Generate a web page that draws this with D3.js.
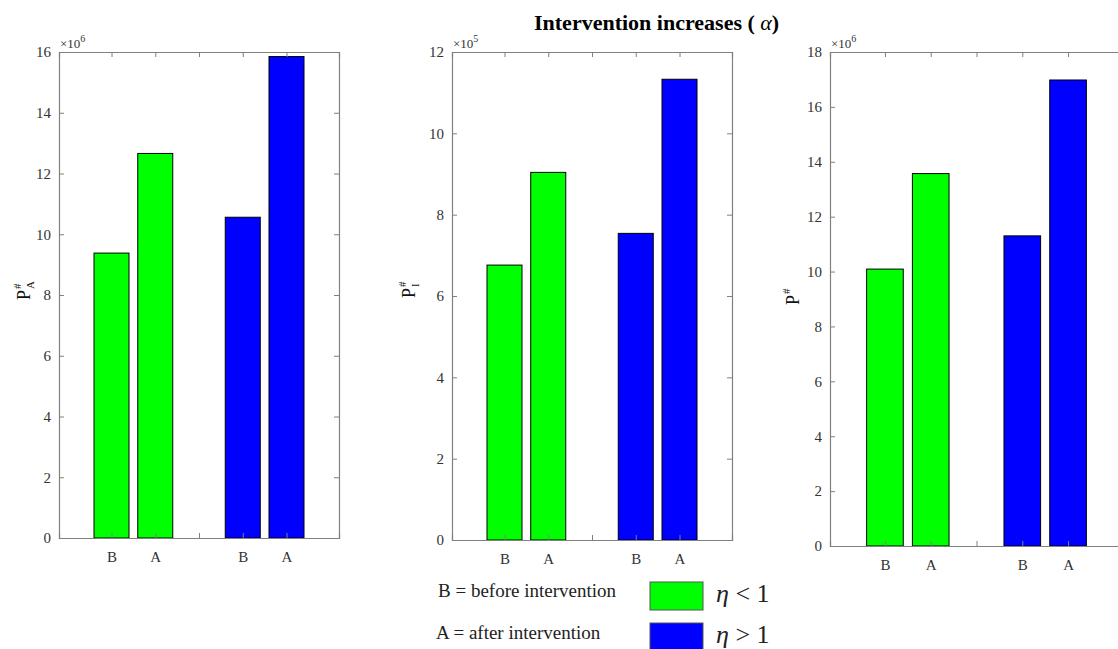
<!DOCTYPE html>
<html><head><meta charset="utf-8">
<script src="https://cdn.jsdelivr.net/npm/d3@7"></script>
<style>body{margin:0;background:#fff}svg{display:block}text{font-family:"Liberation Serif","Times New Roman",serif}</style>
</head><body><svg id="c" width="1118" height="649"></svg>
<script>
const categories = ["B","A","","B","A"];
const panelNames = ["PA","PI","P"];
const ylabelSubs = ["A","I",""];
const exponents = ["6","5","6"];
const yMaxes = [16, 12, 18];
const greenValues = [[9.38, 12.66],[6.76, 9.04],[10.09, 13.57]];
const blueValues  = [[10.56, 15.85],[7.54, 11.33],[11.30, 16.98]];
const legendTexts = ["B = before intervention","A = after intervention"];
const legendLabels = ["< 1","> 1"];
const title = "Intervention increases (";

const svg = d3.select("#c");
const layout = [
  {l:59, r:339, t:52, b:538, lx:24, ly:292},
  {l:452, r:732, t:52, b:540, lx:409, ly:290},
  {l:830, r:1123, t:52, b:546, lx:793, ly:297}
];
const axisCol = "#808080", txtCol = "#333";

layout.forEach((L, i) => {
  const g = svg.append("g");
  const x = d3.scaleLinear().domain([-0.2, 6.2]).range([L.l, L.r]);
  const y = d3.scaleLinear().domain([0, yMaxes[i]]).range([L.b, L.t]);
  const bw = x(0.8) - x(0);
  const bars = [
    {p:1, v:greenValues[i][0], c:"#00ff00"},
    {p:2, v:greenValues[i][1], c:"#00ff00"},
    {p:4, v:blueValues[i][0], c:"#0000ff"},
    {p:5, v:blueValues[i][1], c:"#0000ff"}
  ];
  g.selectAll("rect.bar").data(bars).join("rect")
    .attr("x", d => x(d.p) - bw/2).attr("width", bw)
    .attr("y", d => y(d.v)).attr("height", d => y(0) - y(d.v))
    .attr("fill", d => d.c).attr("stroke", "#000").attr("stroke-width", 1);

  const yt = d3.range(0, yMaxes[i] + 1, 2);
  const xt = [1,2,3,4,5];
  const axL = g.append("g").attr("transform", `translate(${L.l},0)`)
    .call(d3.axisLeft(y).tickValues(yt).tickSize(-5).tickPadding(8).tickFormat(d3.format("d")));
  const axR = g.append("g").attr("transform", `translate(${L.r},0)`)
    .call(d3.axisRight(y).tickValues(yt).tickSize(-5).tickFormat(""));
  const axB = g.append("g").attr("transform", `translate(0,${L.b})`)
    .call(d3.axisBottom(x).tickValues(xt).tickSize(-5).tickPadding(13).tickFormat((d) => categories[d-1]));
  const axT = g.append("g").attr("transform", `translate(0,${L.t})`)
    .call(d3.axisTop(x).tickValues(xt).tickSize(-5).tickFormat(""));
  [axL, axR, axB, axT].forEach(a => {
    a.attr("font-size", null).attr("font-family", null);
    a.select(".domain").attr("stroke", axisCol).attr("stroke-width", 1.2);
    a.selectAll(".tick line").attr("stroke", axisCol);
    a.selectAll(".tick text").attr("fill", txtCol).style("font-size", "15px")
      .style("font-family", '"Liberation Serif",serif');
  });
  const ex = g.append("text").attr("x", L.l + 1).attr("y", L.t - 4)
    .attr("fill", txtCol).style("font-size", "13px");
  ex.append("tspan").text("\u00d710");
  ex.append("tspan").attr("dy", -6).style("font-size", "10px").text(exponents[i]);
  const yl = svg.append("g").attr("transform", `translate(${L.lx},${L.ly}) rotate(-90)`);
  yl.append("text").attr("x", -8).attr("y", 6).style("font-size", "18px").attr("fill", "#111").text(panelNames[i].charAt(0));
  yl.append("text").attr("x", 3).attr("y", -3).style("font-size", "11px").attr("fill", "#111").text("#");
  yl.append("text").attr("x", 3).attr("y", 10).style("font-size", "11px").attr("fill", "#111").text(ylabelSubs[i]);
});

const t = svg.append("text").attr("x", 534).attr("y", 30)
  .style("font-size", "22px").style("font-weight", "bold").attr("fill", "#000");
t.append("tspan").text(title);
t.append("tspan").style("font-style", "italic").style("font-weight", "normal").text(" \u03b1");
t.append("tspan").text(")");

const colors = ["#00ff00", "#0000ff"];
legendTexts.forEach((s, k) => {
  svg.append("text").attr("x", 438 - k*2).attr("y", 597 + k*42).style("font-size", "19px").attr("fill", "#222").text(s);
  svg.append("rect").attr("x", 650).attr("y", 582 + k*41).attr("width", 53).attr("height", 28)
    .attr("fill", colors[k]).attr("stroke", "#555").attr("stroke-width", 1);
  const lt = svg.append("text").attr("x", 716).attr("y", 602 + k*41).style("font-size", "26px").attr("fill", "#222");
  lt.append("tspan").style("font-style", "italic").text("\u03b7");
  lt.append("tspan").text(" " + legendLabels[k]);
});
</script></body></html>
